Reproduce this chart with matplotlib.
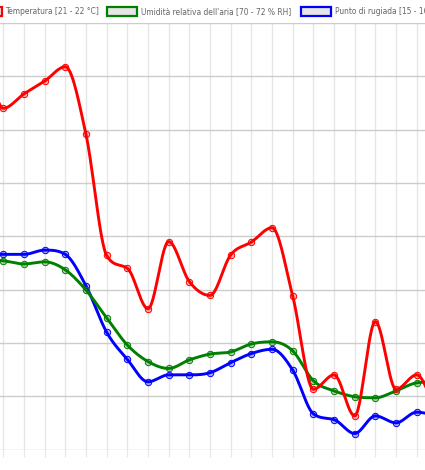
import numpy as np
import matplotlib
matplotlib.use("Agg")
import matplotlib.pyplot as plt
from matplotlib.patches import Rectangle

# ---- data (values in grid units, index -1 .. 21; chart is cropped) ----
x_index = list(range(-1, 22))
temperatura = [7.68, 6.40, 6.67, 6.91, 7.18, 5.91, 3.64, 3.40, 2.64, 3.90, 3.15, 2.89,
               3.65, 3.89, 4.16, 2.88, 1.13, 1.40, 0.63, 2.40, 1.13, 1.40, 0.65]
umidita = [3.57, 3.54, 3.48, 3.52, 3.37, 2.99, 2.47, 1.96, 1.65, 1.52, 1.68, 1.79,
           1.83, 1.98, 2.02, 1.85, 1.29, 1.10, 0.99, 0.97, 1.10, 1.25, 1.27]
rugiada = [3.67, 3.66, 3.66, 3.74, 3.66, 3.07, 2.20, 1.69, 1.27, 1.40, 1.40, 1.44,
           1.63, 1.80, 1.88, 1.49, 0.67, 0.56, 0.30, 0.63, 0.50, 0.70, 0.63]
legend_labels = ["Temperatura [21 - 22 °C]",
                 "Umidità relativa dell'aria [70 - 72 % RH]",
                 "Punto di rugiada [15 - 16 °C]"]
colors = ["#ff0000", "#008000", "#0000ff"]


def monotone(x, y, n=30):
    x = np.asarray(x, float); y = np.asarray(y, float)
    dx = np.diff(x); d = np.diff(y) / dx
    m = np.zeros_like(y)
    m[0] = d[0]; m[-1] = d[-1]
    for i in range(1, len(y) - 1):
        if np.sign(d[i - 1]) != np.sign(d[i]) or d[i - 1] == 0 or d[i] == 0:
            m[i] = 0
        else:
            m[i] = (d[i - 1] + d[i]) / 2
    for i in range(len(d)):
        if d[i] == 0:
            m[i] = m[i + 1] = 0
            continue
        a = m[i] / d[i]; b = m[i + 1] / d[i]
        s = a * a + b * b
        if s > 9:
            t = 3 / np.sqrt(s)
            m[i] = a * t * d[i]; m[i + 1] = b * t * d[i]
    xs, ys = [], []
    for i in range(len(d)):
        t = np.linspace(0, 1, n, endpoint=False)
        h00 = 2 * t**3 - 3 * t**2 + 1; h10 = t**3 - 2 * t**2 + t
        h01 = -2 * t**3 + 3 * t**2; h11 = t**3 - t**2
        xs.append(x[i] + t * dx[i])
        ys.append(h00 * y[i] + h10 * dx[i] * m[i] + h01 * y[i + 1] + h11 * dx[i] * m[i + 1])
    xs.append([x[-1]]); ys.append([y[-1]])
    return np.concatenate(xs), np.concatenate(ys)


W, H = 425, 470
fig = plt.figure(figsize=(W / 100, H / 100), dpi=100)
fig.patch.set_facecolor("white")

# axes in pixel geometry (extends beyond the cropped figure)
x0_px, step_px = 3.3, 20.67
left_px, right_px = -40, 470
top_px, bot_px = 23.0, 449.5
ax = fig.add_axes([left_px / W, (H - bot_px) / H, (right_px - left_px) / W, (bot_px - top_px) / H])
ax.set_xlim((left_px - x0_px) / step_px, (right_px - x0_px) / step_px)
ax.set_ylim(0, 8)
ax.set_xticks(range(-2, 23))
ax.set_yticks(range(0, 9))
ax.set_xticklabels([]); ax.set_yticklabels([])
for s in ax.spines.values():
    s.set_visible(False)
ax.tick_params(axis="x", length=6.5 * 0.72, width=0.8, color="#e6e6e6", direction="out")
ax.tick_params(axis="y", length=0)
ax.xaxis.grid(True, color="#e6e6e6", linewidth=1.0)
ax.yaxis.grid(True, color="#cccccc", linewidth=1.0)
ax.set_axisbelow(True)

series = [temperatura, umidita, rugiada]
zorders = [5, 4, 3]
for vals, c, z in zip(series, colors, zorders):
    xs, ys = monotone(x_index, vals)
    ax.plot(xs, ys, color=c, linewidth=2.1, zorder=z, solid_capstyle="round")
    ax.plot(x_index, vals, linestyle="none", marker="o", markersize=4.6,
            markerfacecolor=matplotlib.colors.to_rgba(c, 0.3), markeredgecolor=c,
            markeredgewidth=0.7, zorder=z + 0.1)

# legend drawn manually (cropped at left and right)
# calibrate font size so that the second label spans ~150 px as in the reference
fam = ["Liberation Sans Narrow", "DejaVu Sans"]
probe = fig.text(0, 0, legend_labels[1], fontsize=10, family=fam)
fig.canvas.draw()
wpx = probe.get_window_extent().width
probe.remove()
fsize = 10 * 150.4 / wpx

box_x = [-28, 107.3, 300.5]
txt_x = [5.3, 141.3, 335.0]
for bx, tx, c, lab in zip(box_x, txt_x, colors, legend_labels):
    fig.patches.append(Rectangle((bx / W, 1 - 16 / H), 30 / W, 8.5 / H,
                                 transform=fig.transFigure, facecolor="#e6e6e6",
                                 edgecolor=c, linewidth=1.6))
    fig.text(tx / W, 1 - 11.2 / H, lab, fontsize=fsize, family=fam,
             color="#666666", ha="left", va="center")

fig.savefig("out.png", dpi=100, facecolor="white")
